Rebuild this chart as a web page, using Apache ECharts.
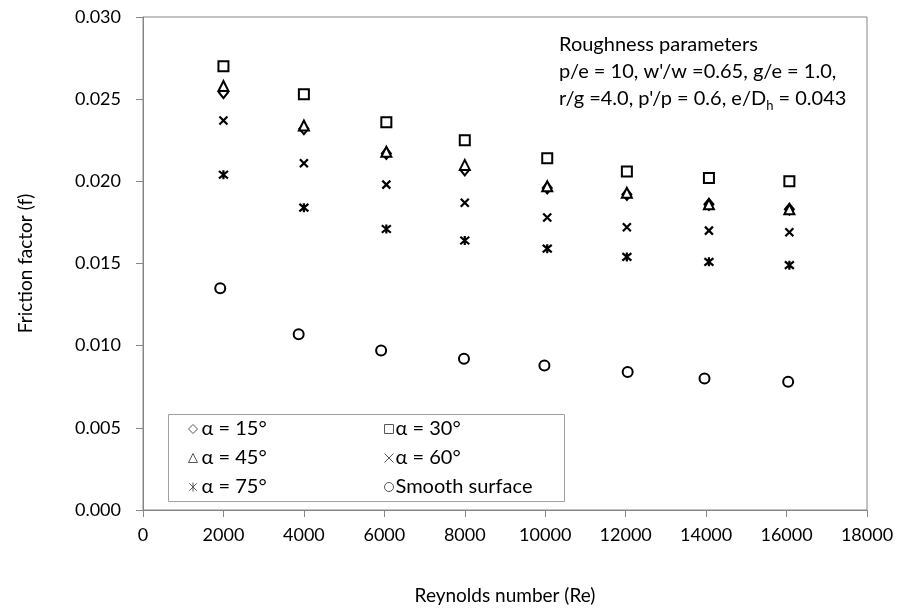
<!DOCTYPE html>
<html>
<head>
<meta charset="utf-8">
<script src="https://cdn.jsdelivr.net/npm/echarts@6/dist/echarts.min.js"></script>
<style>html,body{margin:0;padding:0;background:#fff}#c{width:898px;height:611px}</style>
</head>
<body>
<div id="c"></div>
<script>
// Data
var reRough = [2000, 4000, 6050, 8000, 10050, 12030, 14070, 16070];
var reSmooth = [1920, 3870, 5920, 7980, 9980, 12050, 13960, 16040];
var a15 = [0.0254, 0.0232, 0.0217, 0.0207, 0.0196, 0.0192, 0.0186, 0.0183];
var a30 = [0.0270, 0.0253, 0.0236, 0.0225, 0.0214, 0.0206, 0.0202, 0.0200];
var a45 = [0.0258, 0.0234, 0.0218, 0.0210, 0.0197, 0.0193, 0.0186, 0.0183];
var a60 = [0.0237, 0.0211, 0.0198, 0.0187, 0.0178, 0.0172, 0.0170, 0.0169];
var a75 = [0.0204, 0.0184, 0.0171, 0.0164, 0.0159, 0.0154, 0.0151, 0.0149];
var smooth = [0.0135, 0.0107, 0.0097, 0.0092, 0.0088, 0.0084, 0.0080, 0.0078];
var seriesNames = ['α = 15°', 'α = 30°', 'α = 45°', 'α = 60°', 'α = 75°', 'Smooth surface'];
var xTicks = {min: 0, max: 18000, interval: 2000};
var yTicks = {min: 0, max: 0.03, interval: 0.005};
var annotation = ['Roughness parameters', 'p/e = 10, w\'/w =0.65, g/e = 1.0,', 'r/g =4.0, p\'/p = 0.6, e/D{sub|h} = 0.043'];

var FONT = 'Lato, "Open Sans", sans-serif';
var X_PATH = 'path://M0,0 L10,10 M10,0 L0,10';
var AST_PATH = 'path://M0,0 L10,10 M10,0 L0,10 M5,-1 L5,11';

function pairs(xs, ys) { return xs.map(function (x, i) { return [x, ys[i]]; }); }

var symbols = ['diamond', 'rect', 'triangle', X_PATH, AST_PATH, 'circle'];
var sizes = [[9, 11], 10, [10, 10], 8, 9, 10];
var values = [a15, a30, a45, a60, a75, smooth];
var xs = [reRough, reRough, reRough, reRough, reRough, reSmooth];

var series = seriesNames.map(function (n, i) {
  var isPath = i === 3 || i === 4;
  return {
    name: n,
    type: 'scatter',
    data: pairs(xs[i], values[i]),
    symbol: symbols[i],
    symbolSize: sizes[i],
    itemStyle: {
      color: isPath ? '#000' : '#fff',
      borderColor: '#000',
      borderWidth: isPath ? 2.2 : 2,
      opacity: 1
    },
    emphasis: {disabled: true}
  };
});

function legendData(names) {
  return names.map(function (n) {
    var k = seriesNames.indexOf(n);
    return {name: n, itemStyle: {color: k === 3 || k === 4 ? '#555' : '#fff', borderColor: '#555', borderWidth: 1}};
  });
}

var chart = echarts.init(document.getElementById('c'), null, {renderer: 'canvas'});
chart.setOption({
  animation: false,
  backgroundColor: '#fff',
  textStyle: {fontFamily: FONT},
  grid: {left: 143, right: 31, top: 17, bottom: 101, show: true, borderColor: '#868686', borderWidth: 1, backgroundColor: 'transparent'},
  xAxis: {
    type: 'value', min: xTicks.min, max: xTicks.max, interval: xTicks.interval,
    name: 'Reynolds number (Re)', nameLocation: 'middle', nameGap: 76,
    nameTextStyle: {fontSize: 19, color: '#000', fontFamily: FONT},
    axisLine: {show: true, lineStyle: {color: '#868686', width: 1}},
    axisTick: {show: true, inside: false, length: 7, lineStyle: {color: '#868686'}},
    axisLabel: {fontSize: 18, color: '#000', margin: 16, fontFamily: FONT, formatter: function (v) { return String(v); }},
    splitLine: {show: false}
  },
  yAxis: {
    type: 'value', min: yTicks.min, max: yTicks.max, interval: yTicks.interval,
    name: 'Friction factor (f)', nameLocation: 'middle', nameGap: 108,
    nameTextStyle: {fontSize: 19, color: '#000', fontFamily: FONT},
    axisLine: {show: true, lineStyle: {color: '#868686', width: 1}},
    axisTick: {show: true, inside: false, length: 7, lineStyle: {color: '#868686'}},
    axisLabel: {fontSize: 18, color: '#000', margin: 22, fontFamily: FONT, formatter: function (v) { return v.toFixed(3); }},
    splitLine: {show: false}
  },
  legend: [
    {orient: 'vertical', left: 183, top: 414, itemGap: 9, itemWidth: 9, itemHeight: 9,
     data: legendData([seriesNames[0], seriesNames[2], seriesNames[4]]),
     textStyle: {fontSize: 20, color: '#000', fontFamily: FONT, padding: [0, 0, 0, -1]}, selectedMode: false},
    {orient: 'vertical', left: 379, top: 414, itemGap: 9, itemWidth: 9, itemHeight: 9,
     data: legendData([seriesNames[1], seriesNames[3], seriesNames[5]]),
     textStyle: {fontSize: 20, color: '#000', fontFamily: FONT, padding: [0, 0, 0, -3]}, selectedMode: false}
  ],
  graphic: [
    {type: 'rect', left: 166, top: 412, shape: {width: 396, height: 87}, style: {fill: 'none', stroke: '#a0a0a0', lineWidth: 1}, silent: true},
    {type: 'text', left: 559, top: 31, style: {text: annotation.join('\n'), font: '20px ' + FONT, fill: '#000', lineHeight: 27,
      rich: {sub: {fontSize: 13, verticalAlign: 'bottom', padding: [11, 0, 0, 0], fontFamily: FONT, lineHeight: 27}}}}
  ],
  series: series
});
</script>
</body>
</html>
